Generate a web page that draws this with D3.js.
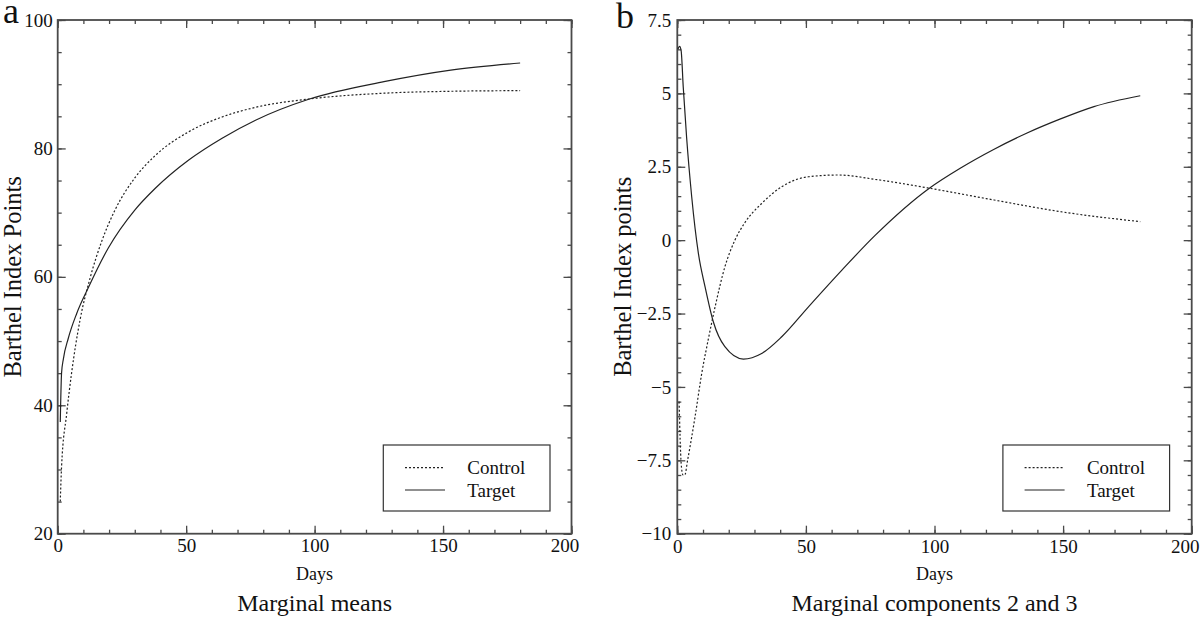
<!DOCTYPE html>
<html>
<head>
<meta charset="utf-8">
<script src="https://cdn.jsdelivr.net/npm/d3@7"></script>
<style>
  html, body { margin: 0; padding: 0; background: #fff; }
  svg { display: block; }
  text { font-family: "Liberation Serif", "Times New Roman", serif; fill: #111; }
</style>
</head>
<body>
<svg id="chart" width="1200" height="618"></svg>
<script>
// ---------- data ----------
const seriesNames = ["Control", "Target"];

// Panel a: marginal means
const aControlDays   = [1, 1.5, 3.5, 5.4, 8.7, 12.6, 17.1, 22.3, 30, 38, 51, 64, 77, 98, 127, 153, 180];
const aControlValues = [25, 30.4, 38.7, 45, 53.3, 59.8, 65.5, 70.4, 75.4, 78.9, 82.6, 84.9, 86.4, 87.7, 88.6, 88.9, 89.0];
const aTargetDays    = [1, 1.5, 2.2, 4.1, 7.4, 11.9, 19.7, 30, 38, 51, 64, 77, 98, 127, 153, 180];
const aTargetValues  = [37.4, 45, 47.2, 50.4, 54.3, 58.3, 64.5, 70.4, 73.8, 78.2, 81.6, 84.4, 87.7, 90.4, 92.2, 93.3];

// Panel b: marginal components 2 and 3
const bControlDays   = [0.7, 1.5, 2.2, 2.9, 4.0, 6.9, 9.5, 12, 14.7, 18.5, 22.4, 26.3, 32.8, 40.6, 51, 62.6, 77, 98, 123, 149, 180];
const bControlValues = [-5.5, -7.6, -8.0, -8.0, -7.5, -6.02, -4.54, -3.4, -2.27, -0.91, 0, 0.6, 1.25, 1.82, 2.16, 2.22, 2.07, 1.77, 1.37, 0.97, 0.63];
const bTargetDays    = [0.2, 0.9, 1.5, 2.3, 3.6, 5.6, 8.2, 10.8, 14, 18.5, 25.7, 32.8, 40.6, 51, 64, 77, 98, 110, 123, 136, 149, 162, 180];
const bTargetValues  = [6.5, 6.6, 6.45, 5.23, 3.52, 1.48, -0.45, -1.59, -2.78, -3.63, -4.05, -3.86, -3.29, -2.27, -1.02, 0.17, 1.77, 2.45, 3.09, 3.65, 4.13, 4.55, 4.92];

// ticks
const xMajorTicks = [0, 50, 100, 150, 200];
const xMinorTicks = d3.range(0, 201, 10);
const aYMajorTicks = [20, 40, 60, 80, 100];
const aYMinorTicks = d3.range(20, 101, 5);
const bYMajorTicks = [-10, -7.5, -5, -2.5, 0, 2.5, 5, 7.5];
const bYMinorTicks = d3.range(-10, 7.51, 0.5);

const panelLetters = ["a", "b"];
const xTitle = "Days";
const yTitles = ["Barthel Index Points", "Barthel Index points"];
const panelTitles = ["Marginal means", "Marginal components 2 and 3"];

// ---------- drawing ----------
const svg = d3.select("#chart");
const axisColor = "#4a4a4a";
const lineColor = "#222";

function fmt(v) {
  const s = (Math.round(v * 10) / 10).toString();
  return s.replace("-", "\u2212");
}

function drawPanel(cfg) {
  const { left, right, top, bottom } = cfg;
  const x = d3.scaleLinear().domain([0, 200]).range([left, right]);
  const y = d3.scaleLinear().domain(cfg.yDomain).range([bottom, top]);
  const g = svg.append("g");

  const addAxis = (gen, transform, showLabels, size, tickVals) => {
    const a = gen.tickValues(tickVals).tickSize(-size).tickPadding(showLabels ? cfg.pad : 0)
      .tickFormat(showLabels ? fmt : () => "");
    const ag = g.append("g").attr("transform", transform).call(a);
    ag.select(".domain").remove();
    ag.selectAll(".tick line").attr("stroke", axisColor).attr("stroke-width", 1.3);
    ag.selectAll(".tick text").style("font-family", '"Liberation Serif", "Times New Roman", serif')
      .style("font-size", "19px").attr("fill", "#111");
    return ag;
  };
  addAxis(d3.axisBottom(x), `translate(0,${bottom})`, false, 4, xMinorTicks);
  addAxis(d3.axisTop(x), `translate(0,${top})`, false, 4, xMinorTicks);
  addAxis(d3.axisLeft(y), `translate(${left},0)`, false, 4, cfg.yMinor);
  addAxis(d3.axisRight(y), `translate(${right},0)`, false, 4, cfg.yMinor);
  const xb = addAxis(d3.axisBottom(x), `translate(0,${bottom})`, true, 8, xMajorTicks);
  // last label sits slightly left of its tick, as in the original
  xb.selectAll(".tick text").filter(d => d === 200).attr("dx", -7);
  addAxis(d3.axisTop(x), `translate(0,${top})`, false, 8, xMajorTicks);
  addAxis(d3.axisLeft(y), `translate(${left},0)`, true, 8, cfg.yMajor);
  addAxis(d3.axisRight(y), `translate(${right},0)`, false, 8, cfg.yMajor);

  // frame
  g.append("rect").attr("x", left).attr("y", top)
    .attr("width", right - left).attr("height", bottom - top)
    .attr("fill", "none").attr("stroke", axisColor).attr("stroke-width", 1.8);

  // lines
  const line = d3.line().x(d => x(d[0])).y(d => y(d[1])).curve(d3.curveMonotoneX);
  const ctrl = d3.zip(cfg.cDays, cfg.cVals);
  const targ = d3.zip(cfg.tDays, cfg.tVals);
  g.append("path").datum(ctrl).attr("d", line).attr("fill", "none")
    .attr("stroke", lineColor).attr("stroke-width", 1.2).attr("stroke-dasharray", "2,2");
  g.append("path").datum(targ).attr("d", line).attr("fill", "none")
    .attr("stroke", lineColor).attr("stroke-width", 1.2);

  // legend
  const lx = left + 325.6, ly = 445, lw = 166.7, lh = 66;
  g.append("rect").attr("x", lx).attr("y", ly).attr("width", lw).attr("height", lh)
    .attr("fill", "#fff").attr("stroke", "#333").attr("stroke-width", 1.2);
  seriesNames.forEach((name, i) => {
    const yy = ly + 22.7 + i * 22.3;
    g.append("line").attr("x1", lx + 21.7).attr("x2", lx + 61.7).attr("y1", yy).attr("y2", yy)
      .attr("stroke", lineColor).attr("stroke-width", 1.2)
      .attr("stroke-dasharray", i === 0 ? "2,2" : null);
    g.append("text").attr("x", lx + 84).attr("y", yy + 6.5).style("font-size", "19px").text(name);
  });

  // titles
  const cx = (left + right) / 2;
  g.append("text").attr("x", cx).attr("y", 580).attr("text-anchor", "middle")
    .style("font-size", "18px").text(xTitle);
  g.append("text").attr("x", cx).attr("y", 611).attr("text-anchor", "middle")
    .style("font-size", "24px").text(cfg.title);
  g.append("text").attr("transform", `translate(${cfg.yTitleX},${(top + bottom) / 2}) rotate(-90)`)
    .attr("text-anchor", "middle").style("font-size", "24.5px").text(cfg.yTitle);
  g.append("text").attr("x", cfg.letterX).attr("y", cfg.letterY).style("font-size", "36px").text(cfg.letter);
}

drawPanel({
  left: 57.7, right: 571.5, top: 20, bottom: 533.7, pad: 5,
  yDomain: [20, 100], yMajor: aYMajorTicks, yMinor: aYMinorTicks,
  cDays: aControlDays, cVals: aControlValues, tDays: aTargetDays, tVals: aTargetValues,
  title: panelTitles[0], yTitle: yTitles[0], yTitleX: 21, letter: panelLetters[0], letterX: 3, letterY: 23
});
drawPanel({
  left: 677.3, right: 1191.7, top: 20, bottom: 533.7, pad: 6,
  yDomain: [-10, 7.5], yMajor: bYMajorTicks, yMinor: bYMinorTicks,
  cDays: bControlDays, cVals: bControlValues, tDays: bTargetDays, tVals: bTargetValues,
  title: panelTitles[1], yTitle: yTitles[1], yTitleX: 631, letter: panelLetters[1], letterX: 616, letterY: 28
});
</script>
</body>
</html>
